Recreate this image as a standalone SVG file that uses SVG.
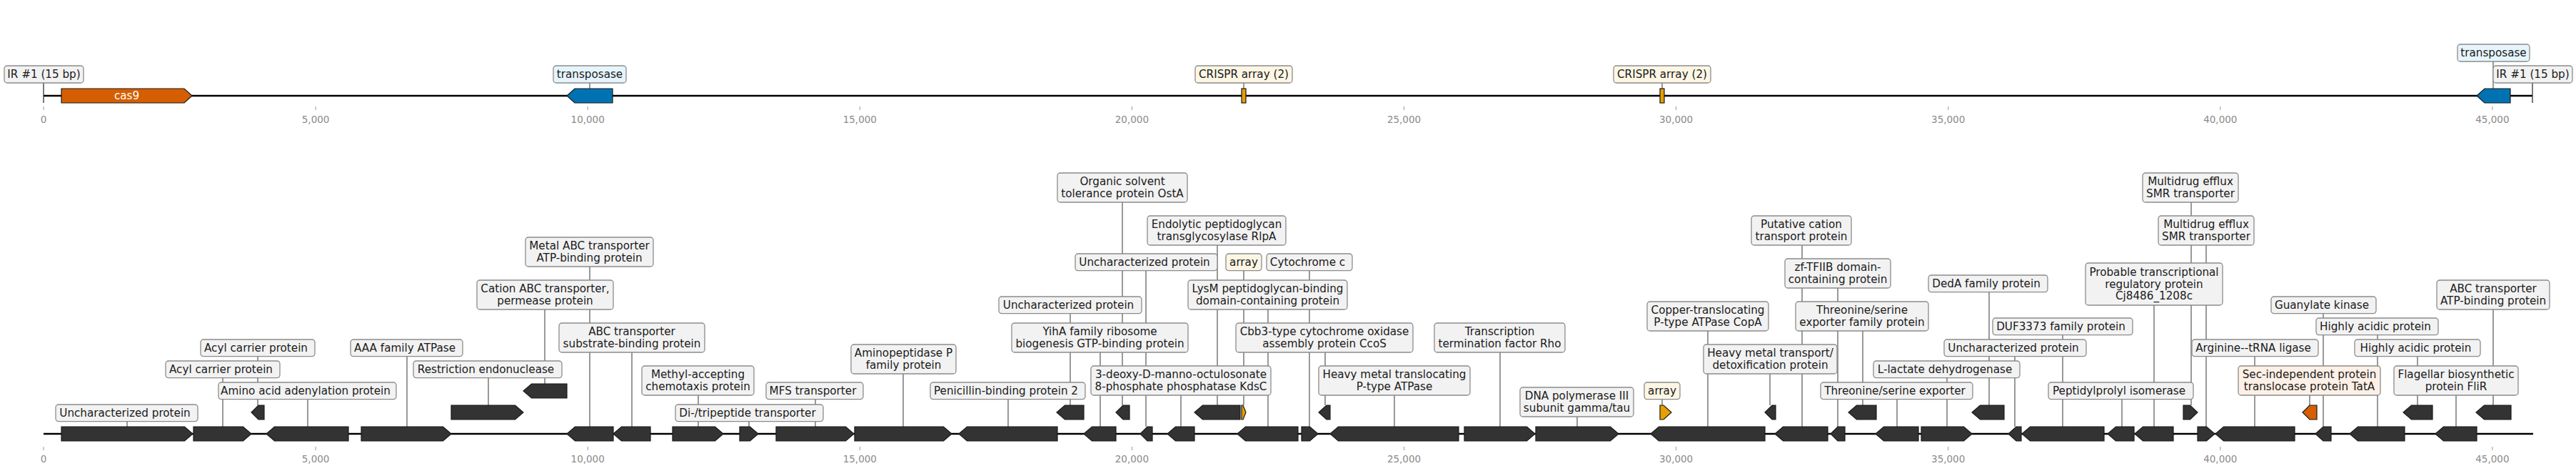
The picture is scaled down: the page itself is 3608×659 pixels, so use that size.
<svg xmlns="http://www.w3.org/2000/svg" width="3608" height="659" viewBox="0 0 3608 659">
<style>
.bg{fill:#ffffff}
.box{fill:#f2f2f2;stroke:#8c8c8c;stroke-width:1.3}
.cream{fill:#fdf6e4}
.blue{fill:#e6f5fc}
.peach{fill:#fdf0e6}
.lbl{font-family:"DejaVu Sans","Noto Sans",sans-serif;font-size:15.2px;fill:#1a1a1a;text-anchor:middle}
.gene{fill:#333333;stroke:#1a1a1a;stroke-width:1.2}
.cas{fill:#d55e00;stroke:#1a1a1a;stroke-width:1.2}
.tnp{fill:#0072b2;stroke:#1a1a1a;stroke-width:1.2}
.crispr{fill:#e69f00;stroke:#1a1a1a;stroke-width:1.2}
.lead{stroke:#555555;stroke-width:1.2;fill:none}
.ir{stroke:#222222;stroke-width:1.2}
.bb{stroke:#000000;stroke-width:2.6}
.tick{stroke:#999999;stroke-width:1}
.tl{font-family:"DejaVu Sans","Noto Sans",sans-serif;font-size:13.5px;fill:#8a8a8a;text-anchor:middle}
.wt{font-family:"DejaVu Sans","Noto Sans",sans-serif;font-size:15.2px;fill:#ffffff;text-anchor:middle}
</style>
<rect class="bg" x="0" y="0" width="3608" height="659"/>

<g id="axes">
<line class="bb" x1="61" y1="134" x2="3547" y2="134"/>
<line class="bb" x1="61" y1="607" x2="3548" y2="607"/>
<g id="ticks-top">
<line class="tick" x1="61" y1="149" x2="61" y2="154"/><text class="tl" x="61" y="171.7">0</text>
<line class="tick" x1="442.1" y1="149" x2="442.1" y2="154"/><text class="tl" x="442.1" y="171.7">5,000</text>
<line class="tick" x1="823.2" y1="149" x2="823.2" y2="154"/><text class="tl" x="823.2" y="171.7">10,000</text>
<line class="tick" x1="1204.3" y1="149" x2="1204.3" y2="154"/><text class="tl" x="1204.3" y="171.7">15,000</text>
<line class="tick" x1="1585.4" y1="149" x2="1585.4" y2="154"/><text class="tl" x="1585.4" y="171.7">20,000</text>
<line class="tick" x1="1966.5" y1="149" x2="1966.5" y2="154"/><text class="tl" x="1966.5" y="171.7">25,000</text>
<line class="tick" x1="2347.6" y1="149" x2="2347.6" y2="154"/><text class="tl" x="2347.6" y="171.7">30,000</text>
<line class="tick" x1="2728.7" y1="149" x2="2728.7" y2="154"/><text class="tl" x="2728.7" y="171.7">35,000</text>
<line class="tick" x1="3109.8" y1="149" x2="3109.8" y2="154"/><text class="tl" x="3109.8" y="171.7">40,000</text>
<line class="tick" x1="3490.9" y1="149" x2="3490.9" y2="154"/><text class="tl" x="3490.9" y="171.7">45,000</text>
</g>
<g id="ticks-bottom">
<line class="tick" x1="61" y1="625" x2="61" y2="630"/><text class="tl" x="61" y="647">0</text>
<line class="tick" x1="442.1" y1="625" x2="442.1" y2="630"/><text class="tl" x="442.1" y="647">5,000</text>
<line class="tick" x1="823.2" y1="625" x2="823.2" y2="630"/><text class="tl" x="823.2" y="647">10,000</text>
<line class="tick" x1="1204.3" y1="625" x2="1204.3" y2="630"/><text class="tl" x="1204.3" y="647">15,000</text>
<line class="tick" x1="1585.4" y1="625" x2="1585.4" y2="630"/><text class="tl" x="1585.4" y="647">20,000</text>
<line class="tick" x1="1966.5" y1="625" x2="1966.5" y2="630"/><text class="tl" x="1966.5" y="647">25,000</text>
<line class="tick" x1="2347.6" y1="625" x2="2347.6" y2="630"/><text class="tl" x="2347.6" y="647">30,000</text>
<line class="tick" x1="2728.7" y1="625" x2="2728.7" y2="630"/><text class="tl" x="2728.7" y="647">35,000</text>
<line class="tick" x1="3109.8" y1="625" x2="3109.8" y2="630"/><text class="tl" x="3109.8" y="647">40,000</text>
<line class="tick" x1="3490.9" y1="625" x2="3490.9" y2="630"/><text class="tl" x="3490.9" y="647">45,000</text>
</g>
</g>

<g id="connectors">
<line class="ir" x1="61" y1="116" x2="61" y2="144"/>
<line class="lead" x1="826" y1="116" x2="826" y2="124"/>
<line class="lead" x1="1742" y1="116" x2="1742" y2="124"/>
<line class="lead" x1="2328" y1="116" x2="2328" y2="124"/>
<line class="lead" x1="3492" y1="86" x2="3492" y2="124"/>
<line class="ir" x1="3547" y1="116" x2="3547" y2="144"/>
<line class="lead" x1="178" y1="589.6" x2="178" y2="597"/>
<line class="lead" x1="312" y1="528.6" x2="312" y2="597"/>
<line class="lead" x1="361" y1="498.6" x2="361" y2="567"/>
<line class="lead" x1="431" y1="558.6" x2="431" y2="597"/>
<line class="lead" x1="570" y1="498.6" x2="570" y2="597"/>
<line class="lead" x1="684" y1="528.6" x2="684" y2="567"/>
<line class="lead" x1="763" y1="433" x2="763" y2="537"/>
<line class="lead" x1="826" y1="373" x2="826" y2="597"/>
<line class="lead" x1="885" y1="493" x2="885" y2="597"/>
<line class="lead" x1="978" y1="553" x2="978" y2="597"/>
<line class="lead" x1="1049" y1="589.6" x2="1049" y2="597"/>
<line class="lead" x1="1142" y1="558.6" x2="1142" y2="597"/>
<line class="lead" x1="1265" y1="523" x2="1265" y2="597"/>
<line class="lead" x1="1412" y1="558.6" x2="1412" y2="597"/>
<line class="lead" x1="1499" y1="438.6" x2="1499" y2="567"/>
<line class="lead" x1="1541" y1="493" x2="1541" y2="597"/>
<line class="lead" x1="1605" y1="378.6" x2="1605" y2="597"/>
<line class="lead" x1="1572" y1="283" x2="1572" y2="567"/>
<line class="lead" x1="1654" y1="553" x2="1654" y2="597"/>
<line class="lead" x1="1705" y1="343" x2="1705" y2="567"/>
<line class="lead" x1="1742" y1="378.6" x2="1742" y2="567"/>
<line class="lead" x1="1776" y1="433" x2="1776" y2="597"/>
<line class="lead" x1="1834" y1="378.6" x2="1834" y2="597"/>
<line class="lead" x1="1856" y1="493" x2="1856" y2="567"/>
<line class="lead" x1="1953" y1="553" x2="1953" y2="597"/>
<line class="lead" x1="2101" y1="493" x2="2101" y2="597"/>
<line class="lead" x1="2209" y1="583" x2="2209" y2="597"/>
<line class="lead" x1="2328" y1="558.6" x2="2328" y2="567"/>
<line class="lead" x1="2392" y1="463" x2="2392" y2="597"/>
<line class="lead" x1="2479" y1="523" x2="2479" y2="567"/>
<line class="lead" x1="2524" y1="343" x2="2524" y2="597"/>
<line class="lead" x1="2574" y1="403" x2="2574" y2="597"/>
<line class="lead" x1="2609" y1="463" x2="2609" y2="567"/>
<line class="lead" x1="2657" y1="558.6" x2="2657" y2="597"/>
<line class="lead" x1="2727" y1="528.6" x2="2727" y2="597"/>
<line class="lead" x1="2786" y1="408.6" x2="2786" y2="567"/>
<line class="lead" x1="2822" y1="498.6" x2="2822" y2="597"/>
<line class="lead" x1="2889" y1="468.6" x2="2889" y2="597"/>
<line class="lead" x1="2972" y1="558.6" x2="2972" y2="597"/>
<line class="lead" x1="3017" y1="427" x2="3017" y2="597"/>
<line class="lead" x1="3069" y1="283" x2="3069" y2="567"/>
<line class="lead" x1="3090" y1="343" x2="3090" y2="597"/>
<line class="lead" x1="3158" y1="498.6" x2="3158" y2="597"/>
<line class="lead" x1="3235" y1="553" x2="3235" y2="567"/>
<line class="lead" x1="3254" y1="438.6" x2="3254" y2="597"/>
<line class="lead" x1="3330" y1="468.6" x2="3330" y2="597"/>
<line class="lead" x1="3386" y1="498.6" x2="3386" y2="567"/>
<line class="lead" x1="3440" y1="553" x2="3440" y2="597"/>
<line class="lead" x1="3492" y1="433" x2="3492" y2="567"/>
</g>

<g id="top-track">
<g id="t-ir-left"><rect class="box" x="6" y="92" width="111" height="24" rx="4"/><text class="lbl" x="61.5" y="109.3">IR #1 (15 bp)</text></g>
<g id="t-cas9"><polygon class="cas" points="86,124 258,124 269,134 258,144 86,144"/><text class="wt" x="177.5" y="139.3">cas9</text></g>
<g id="t-tnp1"><polygon class="tnp" points="794,134 805,124 858,124 858,144 805,144"/><rect class="box blue" x="775" y="92" width="102" height="24" rx="4"/><text class="lbl" x="826" y="109.3">transposase</text></g>
<g id="t-crispr1"><rect class="crispr" x="1739" y="124" width="6" height="20"/><rect class="box cream" x="1674" y="92" width="136" height="24" rx="4"/><text class="lbl" x="1742" y="109.3">CRISPR array (2)</text></g>
<g id="t-crispr2"><rect class="crispr" x="2325" y="124" width="6" height="20"/><rect class="box cream" x="2260" y="92" width="136" height="24" rx="4"/><text class="lbl" x="2328" y="109.3">CRISPR array (2)</text></g>
<g id="t-tnp2"><polygon class="tnp" points="3469,134 3480,124 3516,124 3516,144 3480,144"/><rect class="box blue" x="3442" y="62" width="101" height="24" rx="4"/><text class="lbl" x="3492.5" y="79.3">transposase</text></g>
<g id="t-ir-right"><rect class="box" x="3492" y="92" width="111" height="24" rx="4"/><text class="lbl" x="3547.5" y="109.3">IR #1 (15 bp)</text></g>
</g>

<g id="bottom-track">
<g id="g1"><polygon class="gene" points="86,597 258.5,597 270,607 258.5,617 86,617"/><rect class="box" x="78" y="566" width="199" height="23.6" rx="4"/><text class="lbl" x="175" y="583.1">Uncharacterized protein</text></g>
<g id="g2"><polygon class="gene" points="271,597 340.5,597 352,607 340.5,617 271,617"/><rect class="box" x="232" y="505" width="160" height="23.6" rx="4"/><text class="lbl" x="309.5" y="522.1">Acyl carrier protein</text></g>
<g id="g3"><polygon class="gene" points="352,577 362,567 370,567 370,587 362,587"/><rect class="box" x="281" y="475" width="160" height="23.6" rx="4"/><text class="lbl" x="358.5" y="492.1">Acyl carrier protein</text></g>
<g id="g4"><polygon class="gene" points="373,607 384.5,597 488,597 488,617 384.5,617"/><rect class="box" x="306" y="535" width="249" height="23.6" rx="4"/><text class="lbl" x="428" y="552.1">Amino acid adenylation protein</text></g>
<g id="g5"><polygon class="gene" points="506,597 620.5,597 632,607 620.5,617 506,617"/><rect class="box" x="491" y="475" width="157" height="23.6" rx="4"/><text class="lbl" x="567" y="492.1">AAA family ATPase</text></g>
<g id="g6"><polygon class="gene" points="632,567 721.5,567 733,577 721.5,587 632,587"/><rect class="box" x="579" y="505" width="208" height="23.6" rx="4"/><text class="lbl" x="680.5" y="522.1">Restriction endonuclease</text></g>
<g id="g7"><polygon class="gene" points="733,547 744.5,537 794,537 794,557 744.5,557"/><rect class="box" x="668" y="392" width="191" height="41" rx="4"/><text class="lbl"><tspan x="763.5" y="409.4">Cation ABC transporter,</tspan><tspan x="763.5" y="426.2">permease protein</tspan></text></g>
<g id="g8"><polygon class="gene" points="794,607 805.5,597 859,597 859,617 805.5,617"/><rect class="box" x="736" y="332" width="179" height="41" rx="4"/><text class="lbl"><tspan x="825.5" y="349.4">Metal ABC transporter</tspan><tspan x="825.5" y="366.2">ATP-binding protein</tspan></text></g>
<g id="g9"><polygon class="gene" points="859,607 870.5,597 911,597 911,617 870.5,617"/><rect class="box" x="783" y="452" width="204" height="41" rx="4"/><text class="lbl"><tspan x="885" y="469.4">ABC transporter</tspan><tspan x="885" y="486.2">substrate-binding protein</tspan></text></g>
<g id="g10"><polygon class="gene" points="942,597 1001.5,597 1013,607 1001.5,617 942,617"/><rect class="box" x="899" y="512" width="157" height="41" rx="4"/><text class="lbl"><tspan x="977.5" y="529.4">Methyl-accepting</tspan><tspan x="977.5" y="546.2">chemotaxis protein</tspan></text></g>
<g id="g11"><polygon class="gene" points="1036,597 1050.5,597 1062,607 1050.5,617 1036,617"/><rect class="box" x="946" y="566" width="207" height="23.6" rx="4"/><text class="lbl" x="1047" y="583.1">Di-/tripeptide transporter</text></g>
<g id="g12"><polygon class="gene" points="1087,597 1184.5,597 1196,607 1184.5,617 1087,617"/><rect class="box" x="1073" y="535" width="136" height="23.6" rx="4"/><text class="lbl" x="1138.5" y="552.1">MFS transporter</text></g>
<g id="g13"><polygon class="gene" points="1197,597 1321.5,597 1333,607 1321.5,617 1197,617"/><rect class="box" x="1192" y="482" width="147" height="41" rx="4"/><text class="lbl"><tspan x="1265.5" y="499.4">Aminopeptidase P</tspan><tspan x="1265.5" y="516.2">family protein</tspan></text></g>
<g id="g14"><polygon class="gene" points="1343,607 1354.5,597 1481,597 1481,617 1354.5,617"/><rect class="box" x="1303" y="535" width="217" height="23.6" rx="4"/><text class="lbl" x="1409" y="552.1">Penicillin-binding protein 2</text></g>
<g id="g15"><polygon class="gene" points="1480,577 1491.5,567 1518,567 1518,587 1491.5,587"/><rect class="box" x="1399" y="415" width="200" height="23.6" rx="4"/><text class="lbl" x="1496.5" y="432.1">Uncharacterized protein</text></g>
<g id="g16"><polygon class="gene" points="1518,607 1529.5,597 1563,597 1563,617 1529.5,617"/><rect class="box" x="1417" y="452" width="247" height="41" rx="4"/><text class="lbl"><tspan x="1540.5" y="469.4">YihA family ribosome</tspan><tspan x="1540.5" y="486.2">biogenesis GTP-binding protein</tspan></text></g>
<g id="g17"><polygon class="gene" points="1563,577 1573,567 1582,567 1582,587 1573,587"/><rect class="box" x="1481" y="242" width="182" height="41" rx="4"/><text class="lbl"><tspan x="1572" y="259.4">Organic solvent</tspan><tspan x="1572" y="276.2">tolerance protein OstA</tspan></text></g>
<g id="g18"><polygon class="gene" points="1597,607 1607,597 1614,597 1614,617 1607,617"/><rect class="box" x="1506" y="355" width="199" height="23.6" rx="4"/><text class="lbl" x="1603" y="372.1">Uncharacterized protein</text></g>
<g id="g19"><polygon class="gene" points="1635,607 1646.5,597 1673,597 1673,617 1646.5,617"/><rect class="box" x="1528" y="512" width="252" height="41" rx="4"/><text class="lbl"><tspan x="1654" y="529.4">3-deoxy-D-manno-octulosonate</tspan><tspan x="1654" y="546.2">8-phosphate phosphatase KdsC</tspan></text></g>
<g id="g20"><polygon class="gene" points="1673,577 1684.5,567 1737,567 1737,587 1684.5,587"/><rect class="box" x="1607" y="302" width="194" height="41" rx="4"/><text class="lbl"><tspan x="1704" y="319.4">Endolytic peptidoglycan</tspan><tspan x="1704" y="336.2">transglycosylase RlpA</tspan></text></g>
<g id="g21"><polygon class="crispr" points="1739,567 1741,567 1745,577 1741,587 1739,587"/><rect class="box cream" x="1717" y="355" width="50" height="23.6" rx="4"/><text class="lbl" x="1742" y="372.1">array</text></g>
<g id="g22"><polygon class="gene" points="1733,607 1744.5,597 1818,597 1818,617 1744.5,617"/><rect class="box" x="1664" y="392" width="223" height="41" rx="4"/><text class="lbl"><tspan x="1775.5" y="409.4">LysM peptidoglycan-binding</tspan><tspan x="1775.5" y="426.2">domain-containing protein</tspan></text></g>
<g id="g23"><polygon class="gene" points="1823,597 1834.5,597 1846,607 1834.5,617 1823,617"/><rect class="box" x="1774" y="355" width="120" height="23.6" rx="4"/><text class="lbl" x="1831.5" y="372.1">Cytochrome c</text></g>
<g id="g24"><polygon class="gene" points="1847,577 1858,567 1863,567 1863,587 1858,587"/><rect class="box" x="1731" y="452" width="248" height="41" rx="4"/><text class="lbl"><tspan x="1855" y="469.4">Cbb3-type cytochrome oxidase</tspan><tspan x="1855" y="486.2">assembly protein CcoS</tspan></text></g>
<g id="g25"><polygon class="gene" points="1863,607 1874.5,597 2043,597 2043,617 1874.5,617"/><rect class="box" x="1847" y="512" width="212" height="41" rx="4"/><text class="lbl"><tspan x="1953" y="529.4">Heavy metal translocating</tspan><tspan x="1953" y="546.2">P-type ATPase</tspan></text></g>
<g id="g26"><polygon class="gene" points="2051,597 2138.5,597 2150,607 2138.5,617 2051,617"/><rect class="box" x="2009" y="452" width="183" height="41" rx="4"/><text class="lbl"><tspan x="2100.5" y="469.4">Transcription</tspan><tspan x="2100.5" y="486.2">termination factor Rho</tspan></text></g>
<g id="g27"><polygon class="gene" points="2151,597 2255.5,597 2267,607 2255.5,617 2151,617"/><rect class="box" x="2129" y="542" width="159" height="41" rx="4"/><text class="lbl"><tspan x="2208.5" y="559.4">DNA polymerase III</tspan><tspan x="2208.5" y="576.2">subunit gamma/tau</tspan></text></g>
<g id="g28"><polygon class="crispr" points="2325,567 2330,567 2341,577 2330,587 2325,587"/><rect class="box cream" x="2303" y="535" width="50" height="23.6" rx="4"/><text class="lbl" x="2328" y="552.1">array</text></g>
<g id="g29"><polygon class="gene" points="2312,607 2323.5,597 2472,597 2472,617 2323.5,617"/><rect class="box" x="2307" y="422" width="170" height="41" rx="4"/><text class="lbl"><tspan x="2392" y="439.4">Copper-translocating</tspan><tspan x="2392" y="456.2">P-type ATPase CopA</tspan></text></g>
<g id="g30"><polygon class="gene" points="2472,577 2482,567 2487,567 2487,587 2482,587"/><rect class="box" x="2386" y="482" width="187" height="41" rx="4"/><text class="lbl"><tspan x="2479.5" y="499.4">Heavy metal transport/</tspan><tspan x="2479.5" y="516.2">detoxification protein</tspan></text></g>
<g id="g31"><polygon class="gene" points="2486,607 2497.5,597 2560,597 2560,617 2497.5,617"/><rect class="box" x="2453" y="302" width="140" height="41" rx="4"/><text class="lbl"><tspan x="2523" y="319.4">Putative cation</tspan><tspan x="2523" y="336.2">transport protein</tspan></text></g>
<g id="g32"><polygon class="gene" points="2564,607 2574,597 2584,597 2584,617 2574,617"/><rect class="box" x="2500" y="362" width="148" height="41" rx="4"/><text class="lbl"><tspan x="2574" y="379.4">zf-TFIIB domain-</tspan><tspan x="2574" y="396.2">containing protein</tspan></text></g>
<g id="g33"><polygon class="gene" points="2589,577 2600.5,567 2628,567 2628,587 2600.5,587"/><rect class="box" x="2515" y="422" width="186" height="41" rx="4"/><text class="lbl"><tspan x="2608" y="439.4">Threonine/serine</tspan><tspan x="2608" y="456.2">exporter family protein</tspan></text></g>
<g id="g34"><polygon class="gene" points="2627,607 2638.5,597 2687,597 2687,617 2638.5,617"/><rect class="box" x="2550" y="535" width="213" height="23.6" rx="4"/><text class="lbl" x="2654" y="552.1">Threonine/serine exporter</text></g>
<g id="g35"><polygon class="gene" points="2691,597 2750.5,597 2762,607 2750.5,617 2691,617"/><rect class="box" x="2624" y="505" width="205" height="23.6" rx="4"/><text class="lbl" x="2724" y="522.1">L-lactate dehydrogenase</text></g>
<g id="g36"><polygon class="gene" points="2762,577 2773.5,567 2807,567 2807,587 2773.5,587"/><rect class="box" x="2701" y="385" width="167" height="23.6" rx="4"/><text class="lbl" x="2782" y="402.1">DedA family protein</text></g>
<g id="g37"><polygon class="gene" points="2813,607 2824,597 2831,597 2831,617 2824,617"/><rect class="box" x="2723" y="475" width="199" height="23.6" rx="4"/><text class="lbl" x="2820" y="492.1">Uncharacterized protein</text></g>
<g id="g38"><polygon class="gene" points="2832,607 2843.5,597 2947,597 2947,617 2843.5,617"/><rect class="box" x="2791" y="445" width="196" height="23.6" rx="4"/><text class="lbl" x="2886.5" y="462.1">DUF3373 family protein</text></g>
<g id="g39"><polygon class="gene" points="2952,607 2963.5,597 2989,597 2989,617 2963.5,617"/><rect class="box" x="2869" y="535" width="203" height="23.6" rx="4"/><text class="lbl" x="2968" y="552.1">Peptidylprolyl isomerase</text></g>
<g id="g40"><polygon class="gene" points="2990,607 3001.5,597 3044,597 3044,617 3001.5,617"/><rect class="box" x="2921" y="368" width="192" height="59" rx="4"/><text class="lbl"><tspan x="3017" y="385.8">Probable transcriptional</tspan><tspan x="3017" y="402.6">regulatory protein</tspan><tspan x="3017" y="419.4">Cj8486_1208c</tspan></text></g>
<g id="g41"><polygon class="gene" points="3058,567 3067.5,567 3078,577 3067.5,587 3058,587"/><rect class="box" x="3001" y="242" width="134" height="41" rx="4"/><text class="lbl"><tspan x="3068" y="259.4">Multidrug efflux</tspan><tspan x="3068" y="276.2">SMR transporter</tspan></text></g>
<g id="g42"><polygon class="gene" points="3078,597 3090.5,597 3102,607 3090.5,617 3078,617"/><rect class="box" x="3023" y="302" width="134" height="41" rx="4"/><text class="lbl"><tspan x="3090" y="319.4">Multidrug efflux</tspan><tspan x="3090" y="336.2">SMR transporter</tspan></text></g>
<g id="g43"><polygon class="gene" points="3103,607 3114.5,597 3214,597 3214,617 3114.5,617"/><rect class="box" x="3070" y="475" width="177" height="23.6" rx="4"/><text class="lbl" x="3156" y="492.1">Arginine--tRNA ligase</text></g>
<g id="g44"><polygon class="cas" points="3225,577 3235,567 3245,567 3245,587 3235,587"/><rect class="box peach" x="3135" y="512" width="199" height="41" rx="4"/><text class="lbl"><tspan x="3234.5" y="529.4">Sec-independent protein</tspan><tspan x="3234.5" y="546.2">translocase protein TatA</tspan></text></g>
<g id="g45"><polygon class="gene" points="3243,607 3254,597 3265,597 3265,617 3254,617"/><rect class="box" x="3181" y="415" width="147" height="23.6" rx="4"/><text class="lbl" x="3252" y="432.1">Guanylate kinase</text></g>
<g id="g46"><polygon class="gene" points="3291,607 3302.5,597 3368,597 3368,617 3302.5,617"/><rect class="box" x="3244" y="445" width="171" height="23.6" rx="4"/><text class="lbl" x="3327" y="462.1">Highly acidic protein</text></g>
<g id="g47"><polygon class="gene" points="3366,577 3377.5,567 3407,567 3407,587 3377.5,587"/><rect class="box" x="3298" y="475" width="176" height="23.6" rx="4"/><text class="lbl" x="3383.5" y="492.1">Highly acidic protein</text></g>
<g id="g48"><polygon class="gene" points="3411,607 3422.5,597 3469,597 3469,617 3422.5,617"/><rect class="box" x="3353" y="512" width="174" height="41" rx="4"/><text class="lbl"><tspan x="3440" y="529.4">Flagellar biosynthetic</tspan><tspan x="3440" y="546.2">protein FliR</tspan></text></g>
<g id="g49"><polygon class="gene" points="3468,577 3479.5,567 3517,567 3517,587 3479.5,587"/><rect class="box" x="3413" y="392" width="158" height="41" rx="4"/><text class="lbl"><tspan x="3492" y="409.4">ABC transporter</tspan><tspan x="3492" y="426.2">ATP-binding protein</tspan></text></g>
</g>
</svg>
